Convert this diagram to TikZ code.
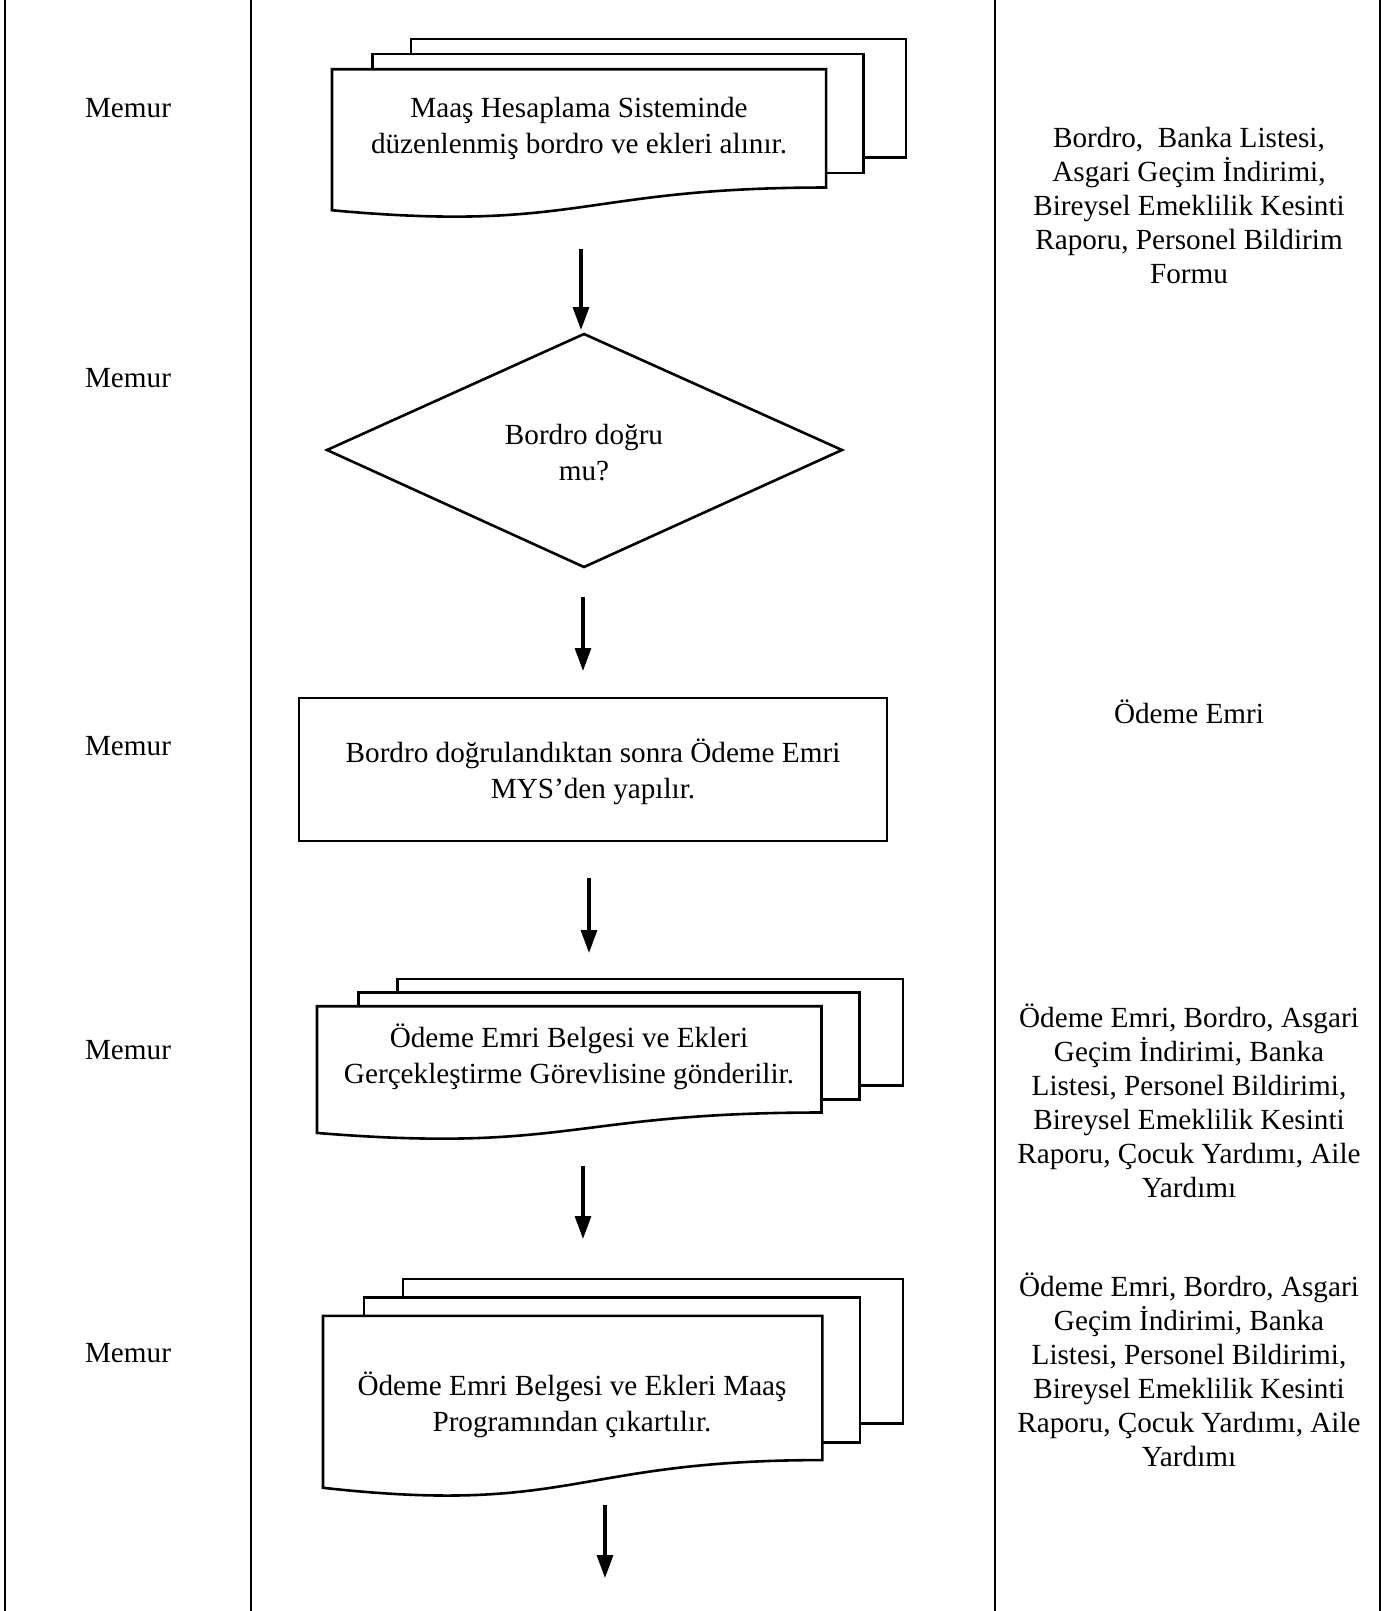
\documentclass[tikz,border=0pt]{standalone}
\usepackage{fontspec}
\setmainfont{Liberation Serif}
\usetikzlibrary{arrows.meta}
\tikzset{
  shapeline/.style={line width=2.6pt, line join=miter, fill=white},
  gridline/.style={line width=2pt},
  flowarrow/.style={line width=3.2pt, -{Triangle[length=23pt,width=16pt]}},
  txt/.style={align=center, inner sep=0pt, font=\fontsize{29.2}{34}\selectfont},
  shapetxt/.style={align=center, inner sep=0pt, font=\fontsize{29.2}{36}\selectfont},
}
% #1 x0, #2 y0, #3 W/100 (pt), #4 H/100 (pt)
\newcommand{\multidocshape}[4]{%
  \begin{scope}[shift={(#1,#2)}, x=#3, y=-#4]
    \filldraw[shapeline] (13.76,0) rectangle (100,66.63);
    \filldraw[shapeline] (7.09,8.40) rectangle (92.59,75.24);
    \filldraw[shapeline] (0,96.21) .. controls (43.05,108.99) and (43.05,83.44) .. (86.09,83.44)
       -- (86.09,17.01) -- (0,17.01) -- cycle;
  \end{scope}}
\begin{document}
\begin{tikzpicture}[x=1pt,y=-1pt]
\useasboundingbox (0,0) rectangle (1395,1611);
\fill[white] (0,0) rectangle (1395,1611);
% table lines
\coordinate (l1t) at (5,0);    \coordinate (l1b) at (5,1611);
\coordinate (l2t) at (251,0);  \coordinate (l2b) at (251,1611);
\coordinate (l3t) at (995,0);  \coordinate (l3b) at (995,1611);
\coordinate (l4t) at (1380,0); \coordinate (l4b) at (1380,1611);
\draw[gridline] (l1t) -- (l1b);
\draw[gridline] (l2t) -- (l2b);
\draw[gridline] (l3t) -- (l3b);
\draw[gridline] (l4t) -- (l4b);

% left column
\node[txt] (m1) at (128,108) {Memur};
\node[txt] (m2) at (128,378) {Memur};
\node[txt] (m3) at (128,746) {Memur};
\node[txt] (m4) at (128,1050) {Memur};
\node[txt] (m5) at (128,1353) {Memur};

% shapes
\multidocshape{332}{39}{5.74pt}{1.78pt}
\node[shapetxt] (t1) at (579,128) {Maaş Hesaplama Sisteminde\\düzenlenmiş bordro ve ekleri alınır.};

\draw[shapeline] (584,334) -- (842,450) -- (584,567) -- (327,450) -- cycle;
\node[shapetxt] (t2) at (584,453) {Bordro doğru\\mu?};

\draw[shapeline] (299,698) rectangle (887,841);
\node[shapetxt] (t3) at (593,772) {Bordro doğrulandıktan sonra Ödeme Emri\\MYS’den yapılır.};

\multidocshape{317}{979}{5.86pt}{1.60pt}
\node[shapetxt] (t4) at (569,1057) {Ödeme Emri Belgesi ve Ekleri\\Gerçekleştirme Görevlisine gönderilir.};

\multidocshape{323}{1279}{5.80pt}{2.17pt}
\node[shapetxt] (t5) at (572,1405) {Ödeme Emri Belgesi ve Ekleri Maaş\\Programından çıkartılır.};

% arrows
\coordinate (a1s) at (581,249);  \coordinate (a1e) at (581,330);
\coordinate (a2s) at (583,597);  \coordinate (a2e) at (583,671);
\coordinate (a3s) at (589,878);  \coordinate (a3e) at (589,953);
\coordinate (a4s) at (583,1166); \coordinate (a4e) at (583,1239);
\coordinate (a5s) at (605,1505); \coordinate (a5e) at (605,1578);
\draw[flowarrow] (a1s) -- (a1e);
\draw[flowarrow] (a2s) -- (a2e);
\draw[flowarrow] (a3s) -- (a3e);
\draw[flowarrow] (a4s) -- (a4e);
\draw[flowarrow] (a5s) -- (a5e);

% right column
\node[txt] (r1) at (1189,206) {Bordro,\ \ Banka Listesi,\\Asgari Geçim İndirimi,\\Bireysel Emeklilik Kesinti\\Raporu, Personel Bildirim\\Formu};
\node[txt] (r2) at (1189,712) {Ödeme Emri};
\node[txt] (r3) at (1189,1101) {Ödeme Emri, Bordro, Asgari\\Geçim İndirimi, Banka\\Listesi, Personel Bildirimi,\\Bireysel Emeklilik Kesinti\\Raporu, Çocuk Yardımı, Aile\\Yardımı};
\node[txt] (r4) at (1189,1370) {Ödeme Emri, Bordro, Asgari\\Geçim İndirimi, Banka\\Listesi, Personel Bildirimi,\\Bireysel Emeklilik Kesinti\\Raporu, Çocuk Yardımı, Aile\\Yardımı};
\end{tikzpicture}
\end{document}
